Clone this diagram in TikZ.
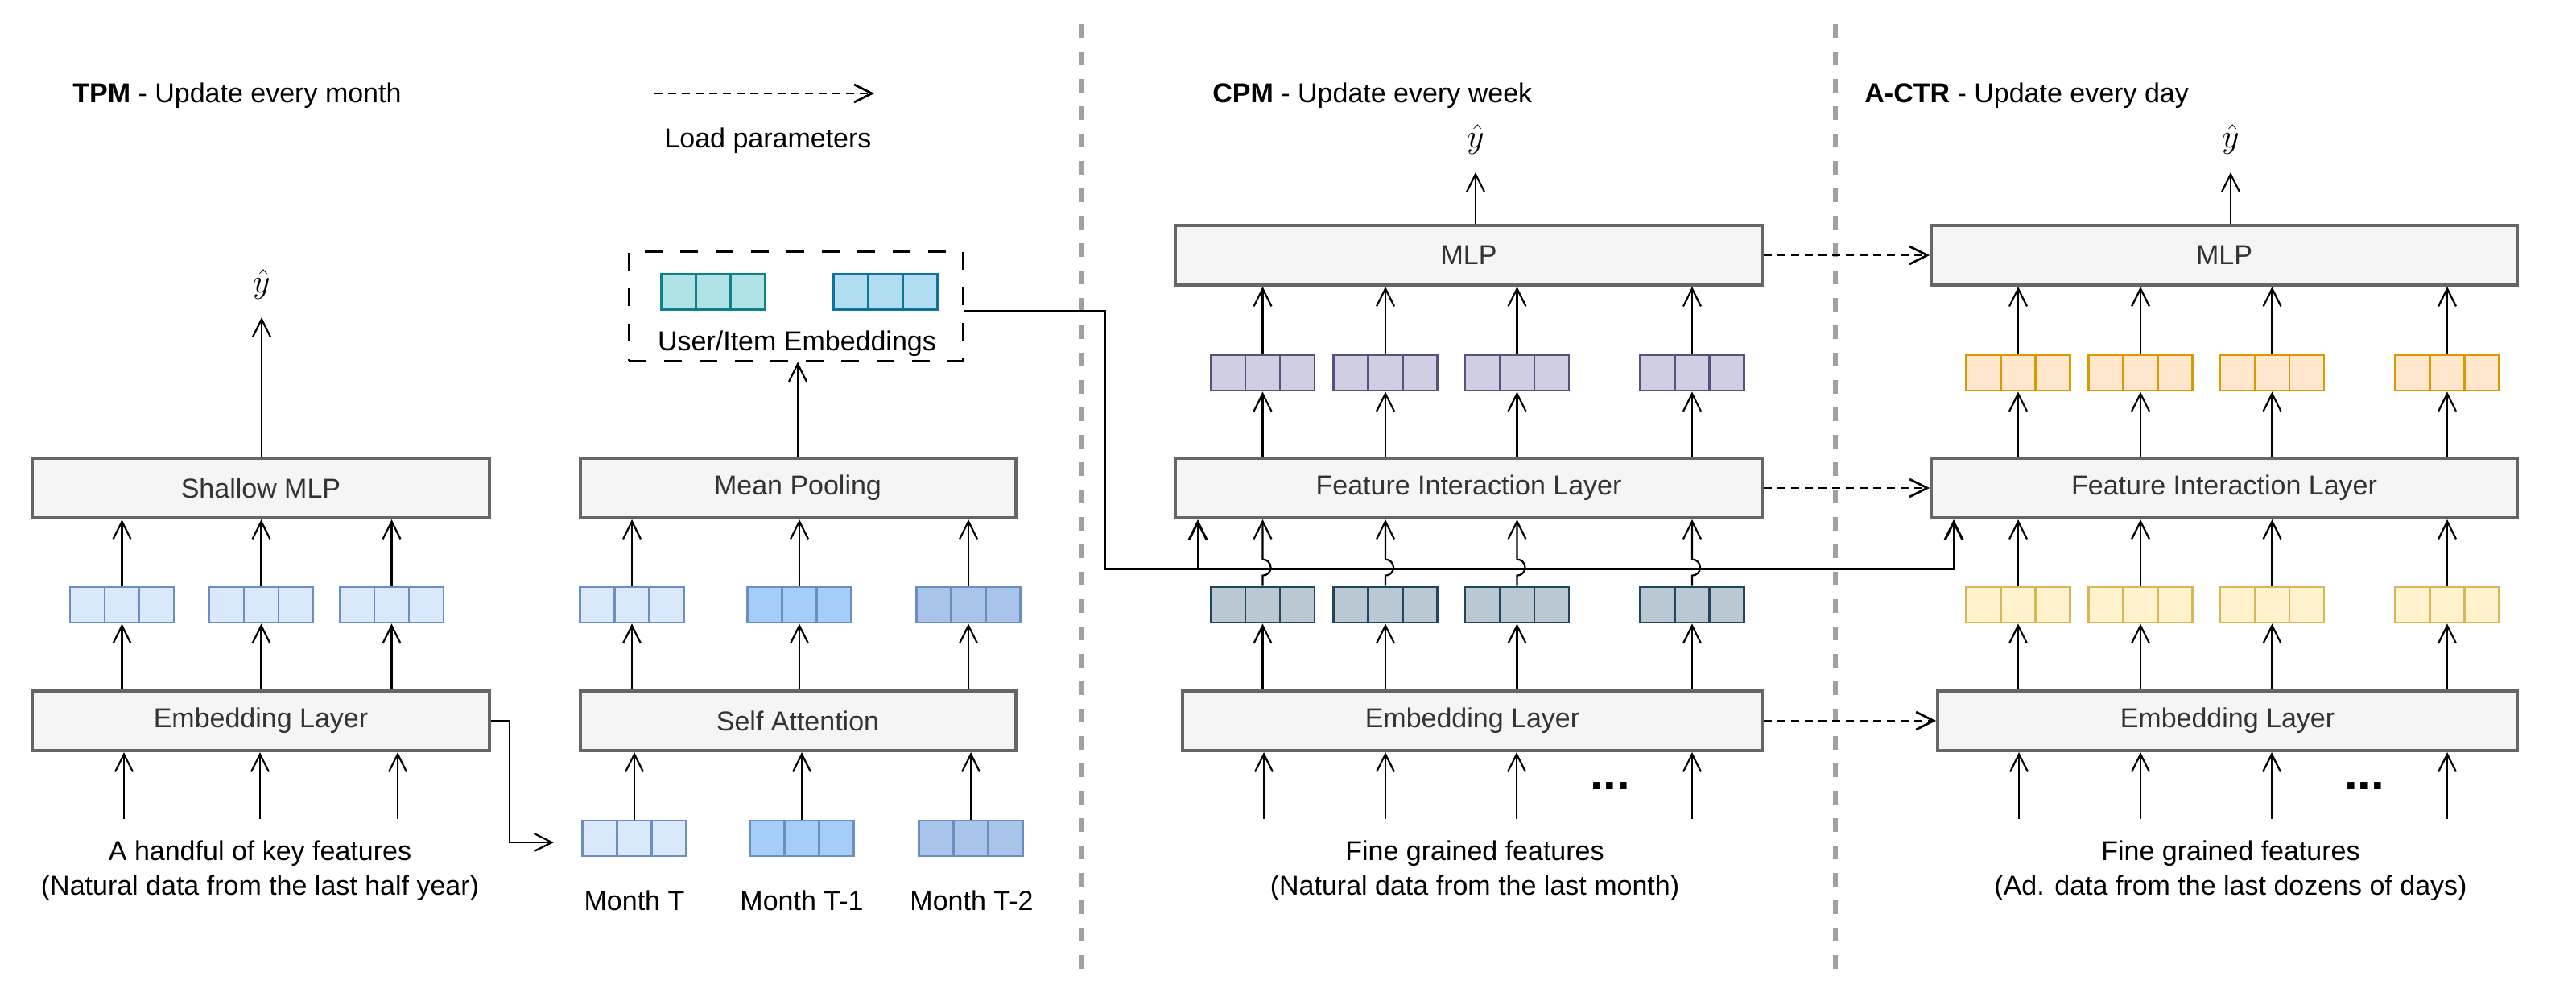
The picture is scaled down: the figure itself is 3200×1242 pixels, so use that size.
\documentclass[tikz,border=0pt]{standalone}
\usepackage{fontspec}
\setmainfont{Liberation Sans}
\usetikzlibrary{arrows.meta,calc}
\definecolor{boxfill}{HTML}{F5F5F5}
\definecolor{boxdraw}{HTML}{666666}
\definecolor{boxtext}{HTML}{333333}
\definecolor{sepgray}{HTML}{A0A0A0}
\definecolor{lbF}{HTML}{DAE8FC}\definecolor{lbD}{HTML}{6C8EBF}
\definecolor{mbF}{HTML}{A5CDFA}
\definecolor{dbF}{HTML}{A9C4EB}
\definecolor{tlF}{HTML}{B0E3E6}\definecolor{tlD}{HTML}{0E8088}
\definecolor{skF}{HTML}{B1DDF0}\definecolor{skD}{HTML}{10739E}
\definecolor{puF}{HTML}{D0CEE2}\definecolor{puD}{HTML}{56517E}
\definecolor{slF}{HTML}{BAC8D3}\definecolor{slD}{HTML}{23445D}
\definecolor{orF}{HTML}{FFE6CC}\definecolor{orD}{HTML}{D79B00}
\definecolor{yeF}{HTML}{FFF2CC}\definecolor{yeD}{HTML}{D6B656}
\newcommand\myfs{\fontsize{17}{20}\selectfont}
\tikzset{
  layerbox/.style={draw=boxdraw, fill=boxfill, line width=2pt, text=boxtext, font=\myfs, minimum height=37pt, inner sep=0pt},
  vec/.style 2 args={draw=#2, fill=#1, line width=1.35pt, minimum width=64.5pt, minimum height=22pt, inner sep=0pt,
    path picture={\draw[#2, line width=1.35pt]
      ($(path picture bounding box.south west)!1/3!(path picture bounding box.south east)$) -- ($(path picture bounding box.north west)!1/3!(path picture bounding box.north east)$)
      ($(path picture bounding box.south west)!2/3!(path picture bounding box.south east)$) -- ($(path picture bounding box.north west)!2/3!(path picture bounding box.north east)$);}},
  arr/.style={line width=1.1pt, -{Straight Barb[length=11pt,width=11pt]}},
  conn/.style={line width=1.5pt, -{Straight Barb[length=11pt,width=11pt]}},
  load/.style={line width=1.3pt, dash pattern=on 5pt off 3.5pt, -{Straight Barb[length=11pt,width=11pt]}},
  sepline/.style={sepgray, line width=2.8pt, dash pattern=on 8.5pt off 8.5pt},
  lbl/.style={font=\myfs, inner sep=0pt, anchor=base},
  yh/.style={font=\fontsize{21}{24}\selectfont, inner sep=0pt},
  dots/.style={font=\fontsize{30}{30}\selectfont\bfseries, inner sep=0pt, anchor=base}
}
\begin{document}
\begin{tikzpicture}[x=0.5pt,y=-0.5pt]
\useasboundingbox (0,0) rectangle (3200,1242);

% separators
\draw[sepline] (1343,30) -- (1343,1214);
\draw[sepline] (2280,30) -- (2280,1214);

% titles and legend
\node[font=\myfs, inner sep=0pt, anchor=base west] (ttpm) at (90,127) {\textbf{TPM} - Update every month};
\node[font=\myfs, inner sep=0pt, anchor=base west] (tcpm) at (1506,127) {\textbf{CPM} - Update every week};
\node[font=\myfs, inner sep=0pt, anchor=base west] (tact) at (2316,127) {\textbf{A-CTR} - Update every day};
\coordinate (lg1) at (813,116);
\coordinate (lg2) at (1086,116);
\draw[load] (lg1) -- (lg2);
\node[lbl] (tlp) at (954,183) {Load parameters};

% ---------------- TPM ----------------
\node[layerbox, minimum width=284pt] (smlp) at (324,606) {Shallow MLP};
\node[layerbox, minimum width=284pt] (temb) at (324,895) {Embedding Layer};
\node[layerbox, minimum width=270.5pt] (mpool) at (991,606) {Mean Pooling};
\node[layerbox, minimum width=270.5pt] (satt) at (991,895) {Self Attention};

\node[vec={lbF}{lbD}] (va1) at (151.5,751) {};
\node[vec={lbF}{lbD}] (va2) at (324.5,751) {};
\node[vec={lbF}{lbD}] (va3) at (486.5,751) {};

\node[vec={lbF}{lbD}] (vb1) at (785,751) {};
\node[vec={mbF}{lbD}] (vb2) at (993,751) {};
\node[vec={dbF}{lbD}] (vb3) at (1203,751) {};

\node[vec={lbF}{lbD}] (m1) at (788,1041) {};
\node[vec={mbF}{lbD}] (m2) at (996,1041) {};
\node[vec={dbF}{lbD}] (m3) at (1206,1041) {};
\node[lbl] (ml1) at (788,1130) {Month T};
\node[lbl] (ml2) at (996,1130) {Month T-1};
\node[lbl] (ml3) at (1207,1130) {Month T-2};

\node[draw, line width=1.5pt, dash pattern=on 11pt off 11pt, minimum width=207.5pt, minimum height=68pt, inner sep=0pt] (ue) at (988.5,380) {};
\node[vec={tlF}{tlD}] (ue1) at (886,362.5) {};
\node[vec={skF}{skD}] (ue2) at (1100,362.5) {};
\node[lbl] (uel) at (990,435) {User/Item Embeddings};

\node[yh] (yh1) at (325,353) {$\hat{y}$};

\node[lbl] (tf1) at (323,1068) {A handful of key features};
\node[lbl] (tf1b) at (323,1111) {(Natural data from the last half year)};

\coordinate (ti1) at (154,1017);
\coordinate (ti2) at (323,1017);
\coordinate (ti3) at (494,1017);
\foreach \c in {ti1,ti2,ti3} \draw[arr] (\c) -- (\c |- temb.south);
\foreach \v in {va1,va2,va3} {
  \draw[arr] (\v |- temb.north) -- (\v.south);
  \draw[arr] (\v.north) -- (\v |- smlp.south);
}
\draw[arr] (yh1.south |- smlp.north) -- ([yshift=-11pt]yh1.south);

\coordinate (mt) at (688,1046);
\draw[arr] (temb.east) -- ++(23,0) |- (mt);
\foreach \v in {m1,m2,m3} \draw[arr] (\v.north) -- (\v |- satt.south);
\foreach \v in {vb1,vb2,vb3} {
  \draw[arr] (\v |- satt.north) -- (\v.south);
  \draw[arr] (\v.north) -- (\v |- mpool.south);
}
\draw[arr] (mpool.north) -- (mpool.north |- ue.south);

% ---------------- CPM ----------------
\node[layerbox, minimum width=364.5pt] (cmlp) at (1824.5,317) {MLP};
\node[layerbox, minimum width=364.5pt] (cfil) at (1824.5,606) {Feature Interaction Layer};
\node[layerbox, minimum width=360pt] (cemb) at (1829,895) {Embedding Layer};

\node[vec={puF}{puD}] (cp1) at (1568.5,463) {};
\node[vec={puF}{puD}] (cp2) at (1721,463) {};
\node[vec={puF}{puD}] (cp3) at (1884.5,463) {};
\node[vec={puF}{puD}] (cp4) at (2102,463) {};
\node[vec={slF}{slD}] (dv1) at (1568.5,751) {};
\node[vec={slF}{slD}] (dv2) at (1721,751) {};
\node[vec={slF}{slD}] (dv3) at (1884.5,751) {};
\node[vec={slF}{slD}] (dv4) at (2102,751) {};

\node[yh] (yh2) at (1833,173) {$\hat{y}$};
\node[dots] (cdots) at (2000,980) {...};
\node[lbl] (tf2) at (1832,1068) {Fine grained features};
\node[lbl] (tf2b) at (1832,1111) {(Natural data from the last month)};

\coordinate (ci1) at (1570,1017);
\coordinate (ci2) at (1721,1017);
\coordinate (ci3) at (1884,1017);
\coordinate (ci4) at (2102,1017);
\foreach \c in {ci1,ci2,ci3,ci4} \draw[arr] (\c) -- (\c |- cemb.south);

% ---------------- A-CTR ----------------
\node[layerbox, minimum width=364pt] (amlp) at (2763,317) {MLP};
\node[layerbox, minimum width=364pt] (afil) at (2763,606) {Feature Interaction Layer};
\node[layerbox, minimum width=360pt] (aemb) at (2767,895) {Embedding Layer};

\node[vec={orF}{orD}] (or1) at (2507,463) {};
\node[vec={orF}{orD}] (or2) at (2659,463) {};
\node[vec={orF}{orD}] (or3) at (2822.5,463) {};
\node[vec={orF}{orD}] (or4) at (3040,463) {};
\node[vec={yeF}{yeD}] (ye1) at (2507,751) {};
\node[vec={yeF}{yeD}] (ye2) at (2659,751) {};
\node[vec={yeF}{yeD}] (ye3) at (2822.5,751) {};
\node[vec={yeF}{yeD}] (ye4) at (3040,751) {};

\node[yh] (yh3) at (2771,173) {$\hat{y}$};
\node[dots] (adots) at (2937,980) {...};
\node[lbl] (tf3) at (2771,1068) {Fine grained features};
\node[lbl] (tf3b) at (2771,1111) {(Ad. data from the last dozens of days)};

\coordinate (ai1) at (2508,1017);
\coordinate (ai2) at (2659,1017);
\coordinate (ai3) at (2822,1017);
\coordinate (ai4) at (3040,1017);
\foreach \c in {ai1,ai2,ai3,ai4} \draw[arr] (\c) -- (\c |- aemb.south);

% connector from user/item embeddings
\coordinate (j1) at (1372,706);
\draw[conn] ([yshift=-3pt]ue.east) -| (j1) -| ([xshift=15pt]cfil.south west);
\draw[conn] ([yshift=-3pt]ue.east) -| (j1) -| ([xshift=15pt]afil.south west);

% CPM arrows
\foreach \v in {dv1,dv2,dv3,dv4} {
  \draw[arr] (\v |- cemb.north) -- (\v.south);
  \draw[arr] (\v.north) -- ++(0,-13) arc[start angle=270, end angle=450, radius=5pt] -- (\v |- cfil.south);
}
\foreach \v in {cp1,cp2,cp3,cp4} {
  \draw[arr] (\v |- cfil.north) -- (\v.south);
  \draw[arr] (\v.north) -- (\v |- cmlp.south);
}
\draw[arr] (yh2.south |- cmlp.north) -- ([yshift=-11pt]yh2.south);

% A-CTR arrows
\foreach \v in {ye1,ye2,ye3,ye4} {
  \draw[arr] (\v |- aemb.north) -- (\v.south);
  \draw[arr] (\v.north) -- (\v |- afil.south);
}
\foreach \v in {or1,or2,or3,or4} {
  \draw[arr] (\v |- afil.north) -- (\v.south);
  \draw[arr] (\v.north) -- (\v |- amlp.south);
}
\draw[arr] (yh3.south |- amlp.north) -- ([yshift=-11pt]yh3.south);

% load parameters
\draw[load] (cmlp.east) -- (amlp.west);
\draw[load] (cfil.east) -- (afil.west);
\draw[load] (cemb.east) -- (aemb.west);
\end{tikzpicture}
\end{document}
